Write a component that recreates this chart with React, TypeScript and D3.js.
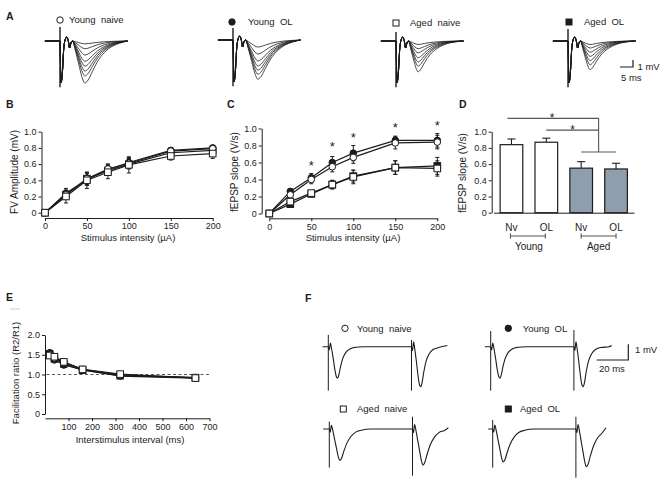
import React, { useEffect, useRef } from 'react';
import * as d3 from 'd3';

const FONT = '"Liberation Sans", Arial, Helvetica, sans-serif';
const INK = '#1c1c1c';
const AGED_FILL = '#8f9dad';

// ---------- groups
const groupNames = ['Young  naive', 'Young  OL', 'Aged  naive', 'Aged  OL'];
const groupMarks = ['circle-open', 'circle-filled', 'square-open', 'square-filled'];

// ---------- A: evoked sweeps, trough amplitude of each sweep (mV)
const sweepsYoungNaive = [0.4, 1.1, 2.0, 2.9, 3.6, 4.3, 5.0, 6.0];
const sweepsYoungOL = [1.0, 2.0, 3.0, 3.7, 4.3, 4.9, 5.6];
const sweepsAgedNaive = [0.5, 1.1, 1.7, 2.4, 3.0, 3.6, 4.4];
const sweepsAgedOL = [0.5, 1.0, 1.6, 2.2, 2.8, 3.4, 4.1];
const artifactUpA = [2.0, 1.7, 1.3, 1.7];
// stimulus artefact + fibre volley (ms, mV)
const stimTailA = [[0, 0], [0.35, -6.0], [0.9, -4.6], [1.4, -1.3], [2.0, 0.2], [2.6, 0.55], [3.2, 0.0], [3.7, -1.0], [4.2, -0.3]];
// fEPSP shape (ms, fraction of trough)
const epspYoungShape = [[4.8, 0], [6, 0.25], [7.2, 0.55], [8.4, 0.85], [9.6, 1.0], [10.8, 0.93], [12.5, 0.72], [14.5, 0.48], [17, 0.28], [20, 0.13], [23, 0.05], [26, 0]];
const epspAgedShape = [[4.8, 0], [5.8, 0.3], [6.8, 0.62], [7.7, 0.88], [8.5, 1.0], [9.5, 0.92], [11, 0.7], [13, 0.45], [15.5, 0.26], [18.5, 0.12], [22, 0.04], [26, 0]];

// ---------- B / C: input-output
const stimIntensity = [0, 25, 50, 75, 100, 150, 200];
const fvYoungNaive = [0, 0.22, 0.42, 0.54, 0.61, 0.76, 0.79];
const fvYoungOL = [0, 0.24, 0.41, 0.53, 0.62, 0.77, 0.8];
const fvAgedNaive = [0, 0.2, 0.4, 0.5, 0.59, 0.7, 0.73];
const fvAgedOL = [0, 0.22, 0.42, 0.52, 0.6, 0.74, 0.77];
const fvErrYoungNaive = [0, 0.05, 0.08, 0.06, 0.06, 0.03, 0.03];
const fvErrYoungOL = [0, 0.06, 0.07, 0.07, 0.06, 0.03, 0.03];
const fvErrAgedNaive = [0, 0.08, 0.1, 0.08, 0.1, 0.05, 0.06];
const fvErrAgedOL = [0, 0.05, 0.07, 0.06, 0.06, 0.04, 0.04];

const slopeYoungNaive = [0, 0.22, 0.4, 0.55, 0.66, 0.83, 0.84];
const slopeYoungOL = [0, 0.26, 0.42, 0.6, 0.71, 0.86, 0.86];
const slopeAgedNaive = [0, 0.14, 0.24, 0.34, 0.43, 0.54, 0.53];
const slopeAgedOL = [0, 0.11, 0.23, 0.34, 0.44, 0.54, 0.56];
const slopeErrYoungNaive = [0, 0.03, 0.05, 0.06, 0.07, 0.07, 0.08];
const slopeErrYoungOL = [0, 0.03, 0.05, 0.07, 0.09, 0.05, 0.08];
const slopeErrAgedNaive = [0, 0.03, 0.03, 0.05, 0.08, 0.08, 0.09];
const slopeErrAgedOL = [0, 0.03, 0.03, 0.05, 0.07, 0.08, 0.1];
const starIntensity = [50, 75, 100, 150, 200];
const starLevel = [0.6, 0.82, 0.92, 1.04, 1.06];

// ---------- D: bars
const barGroups = ['Young Nv', 'Young OL', 'Aged Nv', 'Aged OL'];
const barLabels = ['Nv', 'OL', 'Nv', 'OL'];
const barMeans = [0.84, 0.87, 0.55, 0.54];
const barErrs = [0.07, 0.05, 0.08, 0.07];
const barAged = [false, false, true, true];

// ---------- E: paired-pulse
const isi = [20, 40, 80, 160, 320, 640];
const ppYoungNaive = [1.5, 1.42, 1.3, 1.13, 0.99, 0.92];
const ppYoungOL = [1.55, 1.37, 1.24, 1.12, 0.96, 0.91];
const ppAgedNaive = [1.48, 1.45, 1.32, 1.13, 1.01, 0.91];
const ppAgedOL = [1.52, 1.4, 1.27, 1.11, 0.97, 0.92];
const ppErr = [0.07, 0.04, 0.04, 0.03, 0.03, 0.02];

// ---------- F: paired-pulse traces
const ppStimInterval = 52;
const pairAmpsYoungNaive = [2.0, 2.55];
const pairAmpsYoungOL = [2.0, 2.55];
const pairAmpsAgedNaive = [2.0, 2.3];
const pairAmpsAgedOL = [2.1, 2.4];
const pulseYoungShape = [[0.6, 0.1], [1.3, -0.12], [2.0, 0.05], [3, 0.35], [4, 0.7], [5, 0.95], [5.8, 1.0], [6.6, 0.9], [7.6, 0.65], [9, 0.38], [11, 0.18], [13.5, 0.07], [17, 0.02], [22, 0]];
const pulseAgedShape = [[0.6, 0.1], [1.3, -0.12], [2.2, 0.05], [3.2, 0.3], [4.5, 0.62], [5.6, 0.88], [6.5, 1.0], [7.5, 0.95], [9, 0.72], [11, 0.45], [13.5, 0.24], [16.5, 0.1], [20, 0.04], [26, 0]];

type Pt = number[];

function Marker({ kind, x, y, s = 3.3 }: { kind: string; x: number; y: number; s?: number }) {
  const fill = kind.endsWith('filled') ? INK : '#fff';
  if (kind.startsWith('circle')) return <circle cx={x} cy={y} r={s} fill={fill} stroke={INK} strokeWidth={1} />;
  return <rect x={x - s} y={y - s} width={2 * s} height={2 * s} fill={fill} stroke={INK} strokeWidth={1} />;
}

function Axis({ scale, side, at, ticks, fmt, size = 3 }: any) {
  const ref = useRef<SVGGElement>(null);
  useEffect(() => {
    const gen: any = side === 'left' ? d3.axisLeft(scale) : d3.axisBottom(scale);
    gen.tickValues(ticks).tickSizeInner(size).tickSizeOuter(0).tickPadding(2);
    if (fmt) gen.tickFormat(fmt);
    const g = d3.select(ref.current);
    g.call(gen);
    g.attr('font-family', FONT).attr('font-size', 9);
    g.selectAll('text').attr('fill', INK);
    g.selectAll('path,line').attr('stroke', INK).attr('stroke-width', 1);
  }, []);
  const t = side === 'left' ? `translate(${at},0)` : `translate(0,${at})`;
  return <g ref={ref} transform={t} />;
}

const fmtY = (d: number) => (d === 0 ? '0' : d3.format('.1f')(d));

function Title({ x, y, text, rotate = false, size = 10 }: any) {
  return (
    <text x={x} y={y} textAnchor="middle" dominantBaseline="middle" fontSize={size} fill={INK}
      transform={rotate ? `rotate(-90 ${x} ${y})` : undefined}>{text}</text>
  );
}

function XYPanel({ xs, ys, xv, series, cap = 2 }: any) {
  const line = d3.line<number>().x((_, i) => xs(xv[i])).y((d) => ys(d));
  return (
    <g>
      {series.map((s: any, k: number) => (
        <path key={'l' + k} d={line(s.values) || ''} fill="none" stroke={INK} strokeWidth={1.2} />
      ))}
      {series.map((s: any, k: number) =>
        s.values.map((v: number, i: number) => {
          const e = s.errs[i];
          if (!e) return null;
          const x = xs(xv[i]);
          return (
            <g key={'e' + k + '-' + i} stroke={INK} strokeWidth={1}>
              <line x1={x} x2={x} y1={ys(v - e)} y2={ys(v + e)} />
              <line x1={x - cap} x2={x + cap} y1={ys(v + e)} y2={ys(v + e)} />
              <line x1={x - cap} x2={x + cap} y1={ys(v - e)} y2={ys(v - e)} />
            </g>
          );
        })
      )}
      {series.map((s: any, k: number) =>
        s.values.map((v: number, i: number) => <Marker key={'m' + k + '-' + i} kind={s.kind} x={xs(xv[i])} y={ys(v)} />)
      )}
    </g>
  );
}

function Sweeps({ artX, baseY, amps, shape, up }: any) {
  const xs = d3.scaleLinear().domain([0, 5]).range([artX, artX + 13]);
  const ys = d3.scaleLinear().domain([0, 1]).range([baseY, baseY - 7]);
  const smooth = d3.line<Pt>().x((d) => xs(d[0])).y((d) => ys(d[1])).curve(d3.curveMonotoneX);
  const straight = d3.line<Pt>().x((d) => xs(d[0])).y((d) => ys(d[1]));
  return (
    <g fill="none" stroke={INK}>
      {amps.map((a: number, i: number) => (
        <path key={i} strokeWidth={0.8}
          d={smooth([[-5.8, 0], [-0.1, 0], ...stimTailA, ...shape.map(([t, n]: Pt) => [t, -a * n])]) || ''} />
      ))}
      <path strokeWidth={1.4} d={straight([[0, up], [0, -6.6]]) || ''} />
    </g>
  );
}

function PairTrace({ artX, baseY, amps, ups, downs, shape, tStart, tEnd }: any) {
  const xs = d3.scaleLinear().domain([0, 20]).range([artX, artX + 32]);
  const ys = d3.scaleLinear().domain([0, 1]).range([baseY, baseY - 15.7]);
  const smooth = d3.line<Pt>().x((d) => xs(d[0])).y((d) => ys(d[1])).curve(d3.curveMonotoneX);
  const straight = d3.line<Pt>().x((d) => xs(d[0])).y((d) => ys(d[1]));
  const pts: Pt[] = [
    [tStart, 0], [-0.1, 0], [0, 0],
    ...shape.map(([t, n]: Pt) => [t, -amps[0] * n]),
    [ppStimInterval - 0.1, 0], [ppStimInterval, 0],
    ...shape.map(([t, n]: Pt) => [ppStimInterval + t, -amps[1] * n]).filter((p: Pt) => p[0] < tEnd - 0.5),
    [tEnd, 0.08],
  ];
  return (
    <g fill="none" stroke={INK}>
      <path strokeWidth={1.1} d={smooth(pts) || ''} />
      <path strokeWidth={1} d={straight([[0, ups[0]], [0, -downs[0]]]) || ''} />
      <path strokeWidth={1} d={straight([[ppStimInterval, ups[1]], [ppStimInterval, -downs[1]]]) || ''} />
    </g>
  );
}

function Legend({ x, y, tx, i }: any) {
  return (
    <g>
      <Marker kind={groupMarks[i]} x={x} y={y} s={groupMarks[i].startsWith('circle') ? 3.2 : 3} />
      <text x={tx} y={y + 3.3} fontSize={9.5} fill={INK} style={{ whiteSpace: 'pre' }}>{groupNames[i]}</text>
    </g>
  );
}

function PanelLetter({ x, y, t }: any) {
  return <text x={x} y={y} fontSize={10.5} fontWeight="bold" fill={INK}>{t}</text>;
}

export default function App() {
  // B
  const xB = d3.scaleLinear().domain([0, 200]).range([45, 212.7]);
  const yB = d3.scaleLinear().domain([0, 1]).range([212.7, 131.7]);
  // C
  const xC = d3.scaleLinear().domain([0, 200]).range([269.3, 437.3]);
  const yC = d3.scaleLinear().domain([0, 1]).range([213.5, 128.5]);
  // D
  const xD = d3.scaleBand<string>().domain(barGroups).range([493.5, 634]).paddingInner(0.35).paddingOuter(0.19);
  const yD = d3.scaleLinear().domain([0, 1]).range([212.7, 131.7]);
  const cD = (i: number) => (xD(barGroups[i]) || 0) + xD.bandwidth() / 2;
  // E
  const xE = d3.scaleLinear().domain([0, 700]).range([45, 209.5]);
  const yE = d3.scaleLinear().domain([0, 2]).range([414, 335]);

  const ioTicks = [0, 50, 100, 150, 200];
  const yTicks = [0, 0.2, 0.4, 0.6, 0.8, 1.0];

  const fvSeries = [
    { kind: 'circle-filled', values: fvYoungOL, errs: fvErrYoungOL },
    { kind: 'square-filled', values: fvAgedOL, errs: fvErrAgedOL },
    { kind: 'circle-open', values: fvYoungNaive, errs: fvErrYoungNaive },
    { kind: 'square-open', values: fvAgedNaive, errs: fvErrAgedNaive },
  ];
  const slopeSeries = [
    { kind: 'circle-filled', values: slopeYoungOL, errs: slopeErrYoungOL },
    { kind: 'square-filled', values: slopeAgedOL, errs: slopeErrAgedOL },
    { kind: 'circle-open', values: slopeYoungNaive, errs: slopeErrYoungNaive },
    { kind: 'square-open', values: slopeAgedNaive, errs: slopeErrAgedNaive },
  ];
  const ppSeries = [
    { kind: 'circle-filled', values: ppYoungOL, errs: ppErr },
    { kind: 'square-filled', values: ppAgedOL, errs: ppErr },
    { kind: 'circle-open', values: ppYoungNaive, errs: ppErr },
    { kind: 'square-open', values: ppAgedNaive, errs: ppErr },
  ];

  const sigTop = 1.165, sigMid = 1.02, sigLow = 0.75;
  const sigX = (cD(2) + cD(3)) / 2;

  return (
    <div style={{ position: 'absolute', left: 0, top: 0 }}>
      <svg width={666} height={484} fontFamily={FONT} style={{ display: 'block', background: '#fff' }}>
        {/* ---------- A ---------- */}
        <PanelLetter x={6} y={19.5} t="A" />
        <Legend x={60} y={20} tx={69} i={0} />
        <Legend x={232} y={22} tx={248} i={1} />
        <Legend x={396} y={23} tx={410} i={2} />
        <Legend x={569} y={22} tx={584} i={3} />
        <Sweeps artX={60} baseY={41} amps={sweepsYoungNaive} shape={epspYoungShape} up={artifactUpA[0]} />
        <Sweeps artX={233} baseY={40} amps={sweepsYoungOL} shape={epspYoungShape} up={artifactUpA[1]} />
        <Sweeps artX={396} baseY={41} amps={sweepsAgedNaive} shape={epspAgedShape} up={artifactUpA[2]} />
        <Sweeps artX={568} baseY={41} amps={sweepsAgedOL} shape={epspAgedShape} up={artifactUpA[3]} />
        <g stroke={INK} strokeWidth={1.2} fill="none">
          <path d="M620,67H633V60" />
        </g>
        <text x={637.5} y={69.5} fontSize={9.5} fill={INK}>1 mV</text>
        <text x={621} y={81} fontSize={9.5} fill={INK}>5 ms</text>

        {/* ---------- B ---------- */}
        <PanelLetter x={6} y={108} t="B" />
        <Axis scale={yB} side="left" at={41.5} ticks={yTicks} fmt={fmtY} />
        <Axis scale={xB} side="bottom" at={218} ticks={ioTicks} fmt={d3.format('d')} />
        <XYPanel xs={xB} ys={yB} xv={stimIntensity} series={fvSeries} />
        <Title x={128} y={238} text="Stimulus intensity (µA)" size={9.5} />
        <Title x={15} y={172} text="FV Amplitude (mV)" rotate />

        {/* ---------- C ---------- */}
        <PanelLetter x={227} y={108} t="C" />
        <Axis scale={yC} side="left" at={261.7} ticks={yTicks} fmt={fmtY} />
        <Axis scale={xC} side="bottom" at={218.3} ticks={ioTicks} fmt={d3.format('d')} />
        <XYPanel xs={xC} ys={yC} xv={stimIntensity} series={slopeSeries} />
        {starIntensity.map((s, i) => (
          <text key={i} x={xC(s)} y={yC(starLevel[i]) + 7} textAnchor="middle" fontSize={13} fill={INK}>*</text>
        ))}
        <Title x={353} y={238} text="Stimulus intensity (µA)" size={9.5} />
        <Title x={235} y={172} text="fEPSP slope (V/s)" rotate />

        {/* ---------- D ---------- */}
        <PanelLetter x={459} y={108} t="D" />
        <Axis scale={yD} side="left" at={491.7} ticks={yTicks} fmt={fmtY} />
        <Axis scale={xD} side="bottom" at={212.7} ticks={[]} />
        {barGroups.map((g, i) => {
          const x = xD(g) || 0;
          const w = xD.bandwidth();
          const top = yD(barMeans[i]);
          const et = yD(barMeans[i] + barErrs[i]);
          return (
            <g key={g}>
              <rect x={x} y={top} width={w} height={yD(0) - top} fill={barAged[i] ? AGED_FILL : '#fff'} stroke={INK} strokeWidth={1.2} />
              <line x1={cD(i)} x2={cD(i)} y1={top} y2={et} stroke={INK} strokeWidth={1.1} />
              <line x1={cD(i) - 4} x2={cD(i) + 4} y1={et} y2={et} stroke={INK} strokeWidth={1.1} />
              <text x={cD(i)} y={230.8} textAnchor="middle" fontSize={10} fill={INK}>{barLabels[i]}</text>
            </g>
          );
        })}
        <g stroke="#555" strokeWidth={1.1} fill="none">
          <line x1={cD(0) - 4} x2={sigX} y1={yD(sigTop)} y2={yD(sigTop)} />
          <line x1={cD(1)} x2={sigX} y1={yD(sigMid)} y2={yD(sigMid)} />
          <line x1={sigX} x2={sigX} y1={yD(sigTop)} y2={yD(sigLow)} />
          <line x1={cD(2)} x2={cD(3)} y1={yD(sigLow)} y2={yD(sigLow)} />
          <line x1={cD(0) - 1} x2={cD(1) - 1} y1={236} y2={236} />
          <line x1={cD(0) - 1} x2={cD(0) - 1} y1={233.5} y2={238.5} />
          <line x1={cD(1) - 1} x2={cD(1) - 1} y1={233.5} y2={238.5} />
          <line x1={cD(2)} x2={cD(3)} y1={236} y2={236} />
          <line x1={cD(2)} x2={cD(2)} y1={233.5} y2={238.5} />
          <line x1={cD(3)} x2={cD(3)} y1={233.5} y2={238.5} />
        </g>
        <text x={(cD(0) + sigX) / 2 - 3} y={yD(sigTop) + 3.5} textAnchor="middle" fontSize={12} fill={INK}>*</text>
        <text x={(cD(1) + sigX) / 2} y={yD(sigMid) + 3.5} textAnchor="middle" fontSize={12} fill={INK}>*</text>
        <text x={(cD(0) + cD(1)) / 2} y={250} textAnchor="middle" fontSize={10} fill={INK}>Young</text>
        <text x={(cD(2) + cD(3)) / 2} y={250} textAnchor="middle" fontSize={10} fill={INK}>Aged</text>
        <Title x={463} y={173} text="fEPSP slope (V/s)" rotate />

        {/* ---------- E ---------- */}
        <PanelLetter x={6} y={301} t="E" />
        <line x1={10} x2={20} y1={309} y2={309} stroke="#ccc" strokeWidth={1} />
        <Axis scale={yE} side="left" at={45} ticks={[0, 0.5, 1.0, 1.5, 2.0]} fmt={fmtY} />
        <Axis scale={xE} side="bottom" at={418.3} ticks={[100, 200, 300, 400, 500, 600, 700]} fmt={d3.format('d')} />
        <line x1={46.5} x2={210} y1={yE(1)} y2={yE(1)} stroke="#444" strokeWidth={0.9} strokeDasharray="3,2.5" />
        <XYPanel xs={xE} ys={yE} xv={isi} series={ppSeries} cap={1.8} />
        <Title x={130} y={440} text="Interstimulus interval (ms)" size={9.5} />
        <Title x={16} y={373} text="Facilitation ratio (R2/R1)" rotate size={9.5} />

        {/* ---------- F ---------- */}
        <PanelLetter x={305} y={302} t="F" />
        <Legend x={345} y={328.3} tx={357} i={0} />
        <Legend x={508.3} y={328.3} tx={522.7} i={1} />
        <Legend x={343.3} y={409} tx={357} i={2} />
        <Legend x={508.3} y={409} tx={520} i={3} />
        <PairTrace artX={328.3} baseY={346.7} amps={pairAmpsYoungNaive} ups={[0.75, 0.43]} downs={[2.8, 2.8]} shape={pulseYoungShape} tStart={-3.5} tEnd={74.4} />
        <PairTrace artX={490.7} baseY={346.7} amps={pairAmpsYoungOL} ups={[1.0, 1.06]} downs={[2.8, 2.8]} shape={pulseYoungShape} tStart={-3.6} tEnd={75.6} />
        <PairTrace artX={329.3} baseY={429} amps={pairAmpsAgedNaive} ups={[0.47, 0.78]} downs={[2.46, 2.97]} shape={pulseAgedShape} tStart={-3.8} tEnd={74.4} />
        <PairTrace artX={492.7} baseY={429} amps={pairAmpsAgedOL} ups={[0.57, 0.78]} downs={[2.46, 3.1]} shape={pulseAgedShape} tStart={-2.8} tEnd={70.8} />
        <g stroke={INK} strokeWidth={1.2} fill="none">
          <path d="M596.7,360H628.3V344.3" />
        </g>
        <text x={635} y={353} fontSize={9.5} fill={INK}>1 mV</text>
        <text x={599} y={372} fontSize={9.5} fill={INK}>20 ms</text>
      </svg>
    </div>
  );
}
